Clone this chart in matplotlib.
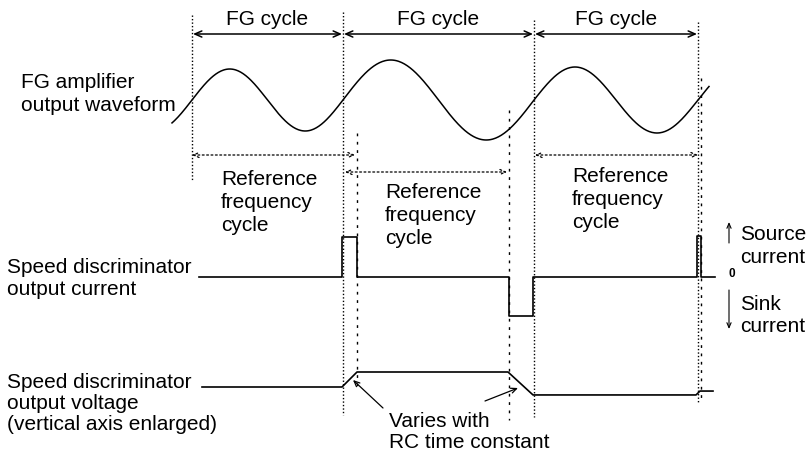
import numpy as np
import matplotlib.pyplot as plt

# time axis of the diagram (one unit = one pixel across the figure)
fg_edges = [192, 343, 534, 698]          # FG cycle boundaries
fg_amp = [31, 40, 33]                    # waveform amplitude in each cycle
wave_start, wave_end = 172, 709

ref_cycles = [(192, 355), (345, 507), (535, 698)]   # reference frequency cycles
ref_rows = [155, 172, 155]

# speed discriminator output current: (start, end, level)
pulses = [(342, 357, 1.0), (509, 533, -0.98), (697, 701, 1.02)]
current_span = (199, 715)

# speed discriminator output voltage
volt_t = [202, 342, 357, 508, 533, 696, 700, 713]
volt_v = [0, 0, 1.0, 1.0, -0.53, -0.53, -0.27, -0.27]

FONT = 'Liberation Sans'
FS = 15

fig = plt.figure(figsize=(8.1, 4.53), dpi=100)
ax = fig.add_axes([0, 0, 1, 1])
ax.set_xlim(0, 810)
ax.set_ylim(453, 0)
ax.axis('off')


def txt(x, y, s, **kw):
    kw.setdefault('fontsize', FS)
    ax.text(x, y, s, family=FONT, va='baseline', color='black', **kw)


# FG amplifier waveform
wave_mid = 100
xs, ys = [], []
periods = [fg_edges[i + 1] - fg_edges[i] for i in range(len(fg_amp))]
for i, amp in enumerate(fg_amp):
    lo = fg_edges[i] if i > 0 else wave_start
    hi = fg_edges[i + 1] if i < len(fg_amp) - 1 else wave_end
    x = np.linspace(lo, hi, 200)
    xs.append(x)
    ys.append(wave_mid - amp * np.sin(2 * np.pi * (x - fg_edges[i]) / periods[i]))
ax.plot(np.concatenate(xs), np.concatenate(ys), color='black', lw=1.1)

# FG cycle arrows
for i in range(len(fg_amp)):
    a, b = fg_edges[i] + 1, fg_edges[i + 1] - 1
    ax.annotate('', xy=(b, 34), xytext=(a, 34),
                arrowprops=dict(arrowstyle='<->,head_length=0.5,head_width=0.22',
                                color='black', lw=1.1, shrinkA=0, shrinkB=0))
    txt((a + b) / 2, 25, 'FG cycle', ha='center')

# reference frequency cycle arrows (dotted)
for (a, b), row in zip(ref_cycles, ref_rows):
    ax.annotate('', xy=(b, row), xytext=(a, row),
                arrowprops=dict(arrowstyle='<->,head_length=0.4,head_width=0.18',
                                color='black', lw=0.9, ls=(0, (1.5, 2)),
                                shrinkA=0, shrinkB=0))

ref_text = [(221, 185), (385, 198), (572, 182)]
for x, y in ref_text:
    for k, line in enumerate(['Reference', 'frequency', 'cycle']):
        txt(x, y + 23 * k, line)

# vertical guide lines
guides_dense = [(192, 15, 180), (343, 12, 415), (534, 20, 417), (698, 22, 403)]
guides_sparse = [(357, 133, 390), (509, 110, 420), (701, 78, 403)]
for x, y0, y1 in guides_dense:
    ax.plot([x, x], [y0, y1], color='black', lw=1.0, ls=(0, (1, 1.5)))
for x, y0, y1 in guides_sparse:
    ax.plot([x, x], [y0, y1], color='black', lw=1.0, ls=(0, (2, 4)))

# output current
cur_base, cur_scale = 277, 40
ct = [current_span[0]]
cv = [0]
for a, b, lev in pulses:
    ct += [a, a, b, b]
    cv += [0, lev, lev, 0]
ct.append(current_span[1])
cv.append(0)
ax.plot(ct, [cur_base - v * cur_scale for v in cv], color='black', lw=1.2)

# output voltage
volt_base, volt_scale = 387, 15
ax.plot(volt_t, [volt_base - v * volt_scale for v in volt_v], color='black', lw=1.2)

# left labels
txt(21, 88, 'FG amplifier')
txt(21, 111, 'output waveform')
txt(7, 273, 'Speed discriminator')
txt(7, 295, 'output current')
txt(7, 388, 'Speed discriminator')
txt(7, 409, 'output voltage')
txt(7, 430, '(vertical axis enlarged)')

# source / sink legend
ax.annotate('', xy=(729, 222), xytext=(729, 243),
            arrowprops=dict(arrowstyle='->,head_length=0.35,head_width=0.15',
                            color='black', lw=0.8, shrinkA=0, shrinkB=0))
ax.annotate('', xy=(729, 329), xytext=(729, 290),
            arrowprops=dict(arrowstyle='->,head_length=0.35,head_width=0.15',
                            color='black', lw=0.8, shrinkA=0, shrinkB=0))
txt(740, 240, 'Source')
txt(740, 263, 'current')
txt(740, 310, 'Sink')
txt(740, 332, 'current')
ax.text(732, 274, '0', family=FONT, fontsize=8.5, fontweight='bold',
        ha='center', va='center')

# RC annotation
for tip, tail in [((353, 380), (383, 408)), ((518, 388), (485, 401))]:
    ax.annotate('', xy=tip, xytext=tail,
                arrowprops=dict(arrowstyle='->,head_length=0.4,head_width=0.18',
                                color='black', lw=0.9, shrinkA=0, shrinkB=0))
txt(389, 427, 'Varies with')
txt(389, 448, 'RC time constant')

fig.savefig('out.png', dpi=100)
